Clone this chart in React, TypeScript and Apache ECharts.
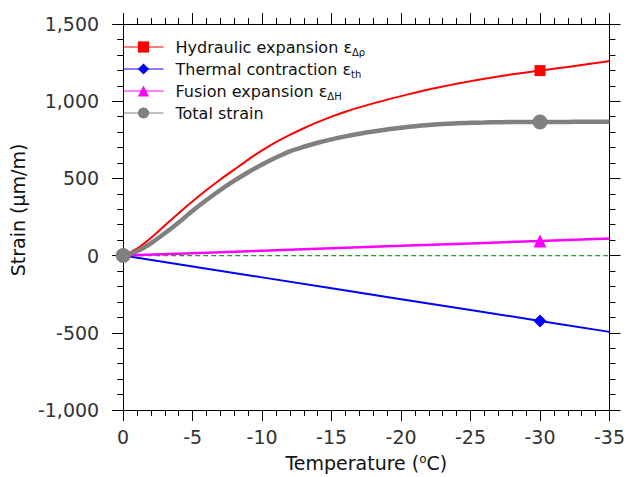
import React, { useEffect, useRef } from "react";
import * as echarts from "echarts";

// Temperature (°C) sample points for the curved series
const temps = [
  0, -1, -2, -3, -4, -5, -6, -7, -8, -9, -10, -11, -12, -13, -14, -15, -16, -17,
  -18, -19, -20, -21, -22, -23, -24, -25, -26, -27, -28, -29, -30, -31, -32, -33,
  -34, -35,
];
// Hydraulic expansion (µm/m)
const hydraulic = [
  0, 45, 115, 195, 275, 352, 425, 493, 557, 622, 682, 735, 782, 825, 864, 900,
  932, 960, 986, 1010, 1033, 1055, 1076, 1095, 1113, 1130, 1146, 1160, 1174,
  1186, 1198, 1210, 1222, 1235, 1247, 1260,
];
// Total strain (µm/m)
const total = [
  0, 28, 80, 145, 215, 290, 360, 425, 485, 540, 590, 635, 675, 705, 731, 753,
  772, 789, 804, 817, 828, 838, 846, 852, 857, 860, 862, 864, 865, 865, 866,
  866, 866, 867, 867, 867,
];
// Straight-line series, read every 5 °C
const linTemps = [0, -5, -10, -15, -20, -25, -30, -35];
const thermal = [0, -70, -141, -211, -282, -352, -423, -494];
const fusion = [0, 16, 32, 48, 63, 79, 95, 111];
// Zero reference line
const zeroTemps = [0, -35];
const zeroValues = [0, 0];

const markerTemps = [-30];
const totalMarkerTemps = [0, -30];

const seriesNames = [
  "Hydraulic expansion",
  "Thermal contraction",
  "Fusion expansion",
  "Total strain",
];
const legendLabels: Record<string, string> = {
  "Hydraulic expansion": "Hydraulic expansion ε{sub|Δρ}",
  "Thermal contraction": "Thermal contraction ε{sub|th}",
  "Fusion expansion": "Fusion expansion ε{sub|ΔH}",
  "Total strain": "Total strain",
};

const FONT = "DejaVu Sans";

function build(xs: number[], ys: number[], marks: number[], size: number) {
  return xs.map((t, i) =>
    marks.indexOf(t) >= 0
      ? { value: [t, ys[i]], symbolSize: size }
      : { value: [t, ys[i]], symbol: "none" }
  );
}

export default function App() {
  const ref = useRef<HTMLDivElement>(null);
  useEffect(() => {
    if (!ref.current) return;
    const chart = echarts.init(ref.current, undefined, { renderer: "svg" });
    const tickCommon = {
      axisLine: { show: true, onZero: false, lineStyle: { color: "#000", width: 1 } },
      axisTick: { show: true, inside: false, length: 11, lineStyle: { color: "#000", width: 1 } },
      minorTick: { show: true, splitNumber: 5, length: 6, lineStyle: { color: "#000", width: 1 } },
      splitLine: { show: false },
      minorSplitLine: { show: false },
    };
    const xBase = {
      type: "value",
      min: -35,
      max: 0,
      interval: 5,
      inverse: true,
      ...tickCommon,
    };
    const yBase = {
      type: "value",
      min: -1000,
      max: 1500,
      interval: 500,
      ...tickCommon,
    };
    chart.setOption({
      animation: false,
      textStyle: { fontFamily: FONT },
      grid: { left: 123, right: 15, top: 24, bottom: 63, containLabel: false },
      legend: {
        left: 123,
        top: 37,
        orient: "vertical",
        padding: 0,
        itemGap: 2,
        itemWidth: 40,
        itemHeight: 14,
        data: seriesNames,
        lineStyle: { width: 1 },
        formatter: (n: string) => legendLabels[n],
        textStyle: {
          fontFamily: FONT,
          fontSize: 16,
          color: "#111",
          lineHeight: 20,
          padding: [0, 0, 0, 7],
          rich: {
            sub: { fontFamily: FONT, fontSize: 10, lineHeight: 10, verticalAlign: "bottom", color: "#111" },
          },
        },
      },
      xAxis: [
        {
          ...xBase,
          position: "bottom",
          name: "Temperature ({sup|o}C)",
          nameLocation: "middle",
          nameGap: 43,
          nameTextStyle: {
            fontFamily: FONT,
            fontSize: 19,
            color: "#111",
            rich: { sup: { fontFamily: FONT, fontSize: 12, verticalAlign: "top", lineHeight: 12, color: "#111" } },
          },
          axisLabel: {
            show: true,
            margin: 17,
            fontFamily: FONT,
            fontSize: 19,
            color: "#333",
            showMinLabel: true,
            showMaxLabel: true,
          },
        },
        {
          ...xBase,
          position: "top",
          axisLabel: { show: false },
        },
      ],
      yAxis: [
        {
          ...yBase,
          position: "left",
          name: "Strain (µm/m)",
          nameLocation: "middle",
          nameGap: 77,
          nameTextStyle: { fontFamily: FONT, fontSize: 19, color: "#111", padding: [0, 0, 0, 14] },
          axisLabel: {
            show: true,
            margin: 24,
            fontFamily: FONT,
            fontSize: 19,
            color: "#333",
            formatter: (v: number) => v.toLocaleString("en-US"),
          },
        },
        {
          ...yBase,
          position: "right",
          axisLabel: { show: false },
        },
      ],
      series: [
        {
          name: "zero",
          type: "line",
          symbol: "none",
          silent: true,
          lineStyle: { color: "#22a022", width: 1.2, type: [5, 3] },
          data: zeroTemps.map((t, i) => [t, zeroValues[i]]),
          z: 2,
        },
        {
          name: seriesNames[0],
          type: "line",
          symbol: "rect",
          symbolSize: 11,
          smooth: 0.3,
          color: "#ff0000",
          lineStyle: { color: "#ff0000", width: 2 },
          itemStyle: { color: "#ff0000" },
          data: build(temps, hydraulic, markerTemps, 11),
          z: 3,
        },
        {
          name: seriesNames[1],
          type: "line",
          symbol: "diamond",
          symbolSize: 13,
          color: "#0000ff",
          lineStyle: { color: "#0000ff", width: 2 },
          itemStyle: { color: "#0000ff" },
          data: build(linTemps, thermal, markerTemps, 13),
          z: 3,
        },
        {
          name: seriesNames[2],
          type: "line",
          symbol: "triangle",
          symbolSize: 13,
          color: "#ff00ff",
          lineStyle: { color: "#ff00ff", width: 2.5 },
          itemStyle: { color: "#ff00ff" },
          data: build(linTemps, fusion, markerTemps, 13),
          z: 3,
        },
        {
          name: seriesNames[3],
          type: "line",
          symbol: "circle",
          symbolSize: 15,
          smooth: 0.3,
          color: "#808080",
          lineStyle: { color: "#808080", width: 4.5 },
          itemStyle: { color: "#808080" },
          data: build(temps, total, totalMarkerTemps, 15),
          z: 4,
        },
      ],
    });
    return () => chart.dispose();
  }, []);
  return (
    <div
      ref={ref}
      style={{ position: "fixed", left: 0, top: 0, width: 628, height: 477, background: "#fff" }}
    />
  );
}
